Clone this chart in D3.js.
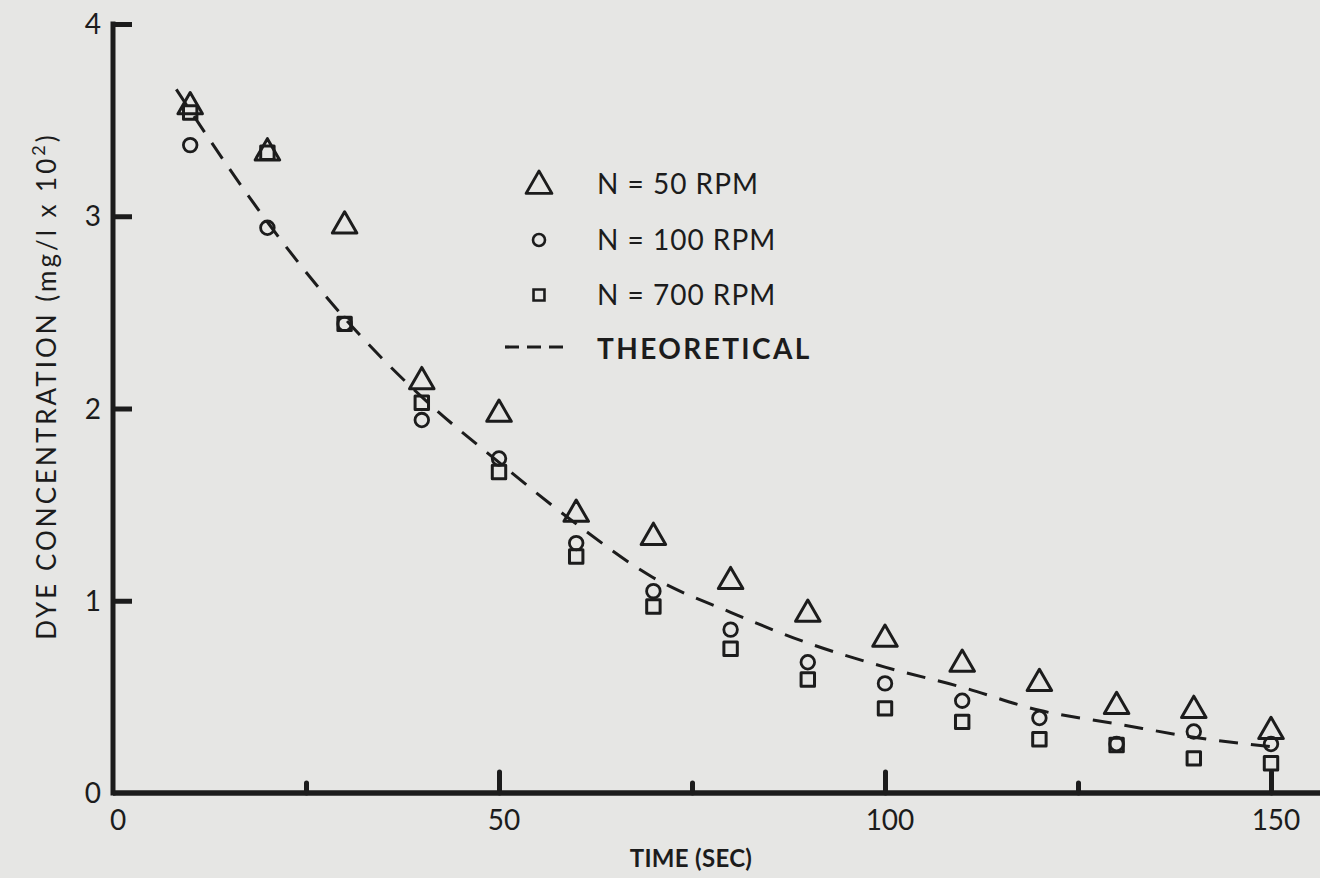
<!DOCTYPE html>
<html><head><meta charset="utf-8">
<script src="https://cdn.jsdelivr.net/npm/d3@7"></script>
<style>
html,body{margin:0;padding:0;background:#e6e6e4;}
svg{display:block;}
text{font-family:"Lato","Open Sans",sans-serif;fill:#1c1c1c;}
</style></head>
<body>
<svg id="chart" width="1320" height="878"></svg>
<script>
// ---- data ----
const times = [10,20,30,40,50,60,70,80,90,100,110,120,130,140,150];
const rpm50  = [3.57,3.33,2.95,2.14,1.97,1.45,1.33,1.10,0.93,0.80,0.67,0.57,0.45,0.43,0.32];
const rpm100 = [3.37,2.94,2.44,1.94,1.74,1.30,1.05,0.85,0.68,0.57,0.48,0.39,0.255,0.32,0.255];
const rpm700 = [3.54,3.33,2.44,2.03,1.67,1.23,0.97,0.75,0.59,0.44,0.37,0.28,0.25,0.18,0.155];
const theoryT = [8.2,10,20,30,40,50,60,70,80,90,100,110,120,130,140,151.5];
const theoryC = [3.66,3.55,2.97,2.47,2.06,1.72,1.40,1.12,0.94,0.78,0.655,0.55,0.43,0.36,0.29,0.235];
const xTickMajor = [50,100,150];
const xTickMinor = [25,75,125];
const xTickLabels = ["0","50","100","150"];
const yTicks = [1,2,3,4];
const yTickLabels = ["0","1","2","3","4"];
const legendLabels = ["N = 50 RPM","N = 100 RPM","N = 700 RPM","THEORETICAL"];

const ink = "#1c1c1c";
const svg = d3.select("#chart");
const x = d3.scaleLinear().domain([0,150]).range([113,1271]);
const y = d3.scaleLinear().domain([0,4]).range([793,24]);

// axes
const gx = svg.append("g").attr("transform",`translate(0,${y(0)})`);
gx.call(d3.axisTop(x).tickValues(xTickMajor).tickSize(21).tickFormat(""));
gx.append("g").call(d3.axisTop(x).tickValues(xTickMinor).tickSize(10).tickFormat(""));
gx.selectAll(".domain").remove();
gx.selectAll("line").attr("stroke",ink).attr("stroke-width",5).attr("stroke-linecap","round");
svg.append("line").attr("x1",x(0)).attr("x2",1320).attr("y1",y(0)).attr("y2",y(0))
  .attr("stroke",ink).attr("stroke-width",5.5);

const gy = svg.append("g").attr("transform",`translate(${x(0)},0)`);
gy.call(d3.axisRight(y).tickValues(yTicks).tickSize(19).tickFormat(""));
gy.selectAll(".domain").remove();
gy.selectAll("line").attr("stroke",ink).attr("stroke-width",5);
svg.append("line").attr("x1",x(0)).attr("x2",x(0)).attr("y1",y(4)-2.5).attr("y2",y(0)+2.5)
  .attr("stroke",ink).attr("stroke-width",5);

// tick labels
svg.append("g").selectAll("text").data([0,50,100,150]).join("text")
  .attr("x",d=>x(d)+5).attr("y",830).attr("text-anchor","middle")
  .attr("font-size",28).text((d,i)=>xTickLabels[i]);
svg.append("g").selectAll("text").data([0,1,2,3,4]).join("text")
  .attr("x",101).attr("y",d=>y(d)+10).attr("text-anchor","end")
  .attr("font-size",28).text((d,i)=>yTickLabels[i]);

// axis titles
svg.append("text").attr("x",691).attr("y",867).attr("text-anchor","middle")
  .attr("font-size",24).attr("font-weight","bold").attr("letter-spacing",0.3).text("TIME (SEC)");
const yl = svg.append("text").attr("transform","translate(56,386) rotate(-90)")
  .attr("text-anchor","middle").attr("font-size",26).attr("letter-spacing",3);
yl.append("tspan").text("DYE  CONCENTRATION  (mg/l x 10");
yl.append("tspan").attr("dy",-11).attr("font-size",18).text("2");
yl.append("tspan").attr("dy",11).text(")");

// theoretical dashed line
const line = d3.line().x(d=>x(d[0])).y(d=>y(d[1])).curve(d3.curveMonotoneX);
svg.append("path").datum(theoryT.map((t,i)=>[t,theoryC[i]]))
  .attr("d",line).attr("fill","none").attr("stroke",ink).attr("stroke-width",3)
  .attr("stroke-dasharray","19,13");

// markers
const tri = d3.symbol().type(d3.symbolTriangle).size(260);
const sq = d3.symbol().type(d3.symbolSquare).size(180);
function markers(vals, gen, isCircle){
  const g = svg.append("g");
  const data = times.map((t,i)=>[t,vals[i]]);
  if(isCircle){
    g.selectAll("circle").data(data).join("circle")
      .attr("cx",d=>x(d[0])).attr("cy",d=>y(d[1])).attr("r",6.8)
      .attr("fill","none").attr("stroke",ink).attr("stroke-width",2.8);
  } else {
    g.selectAll("path").data(data).join("path")
      .attr("transform",d=>`translate(${x(d[0])},${y(d[1])})`).attr("d",gen)
      .attr("fill","none").attr("stroke",ink).attr("stroke-width",3)
      .attr("stroke-linejoin","round");
  }
}
markers(rpm700, sq, false);
markers(rpm100, null, true);
markers(rpm50, tri, false);

// legend
const lg = svg.append("g");
const ly = [184,240,295,349];
lg.append("path").attr("transform",`translate(539,${ly[0]+2})`).attr("d",d3.symbol().type(d3.symbolTriangle).size(290))
  .attr("fill","none").attr("stroke",ink).attr("stroke-width",2.8).attr("stroke-linejoin","round");
lg.append("circle").attr("cx",539).attr("cy",ly[1]).attr("r",6)
  .attr("fill","none").attr("stroke",ink).attr("stroke-width",2.6);
lg.append("path").attr("transform",`translate(539,${ly[2]})`).attr("d",d3.symbol().type(d3.symbolSquare).size(120))
  .attr("fill","none").attr("stroke",ink).attr("stroke-width",2.6);
lg.append("line").attr("x1",505).attr("x2",563).attr("y1",ly[3]-2).attr("y2",ly[3]-2)
  .attr("stroke",ink).attr("stroke-width",3.2).attr("stroke-dasharray","14,8");
lg.selectAll("text").data(legendLabels).join("text")
  .attr("x",597).attr("y",(d,i)=>ly[i]+10).attr("font-size",28)
  .attr("letter-spacing",(d,i)=>i===3?2.4:1)
  .attr("font-weight",(d,i)=>i===3?"bold":"normal").text(d=>d);
</script>
</body></html>
